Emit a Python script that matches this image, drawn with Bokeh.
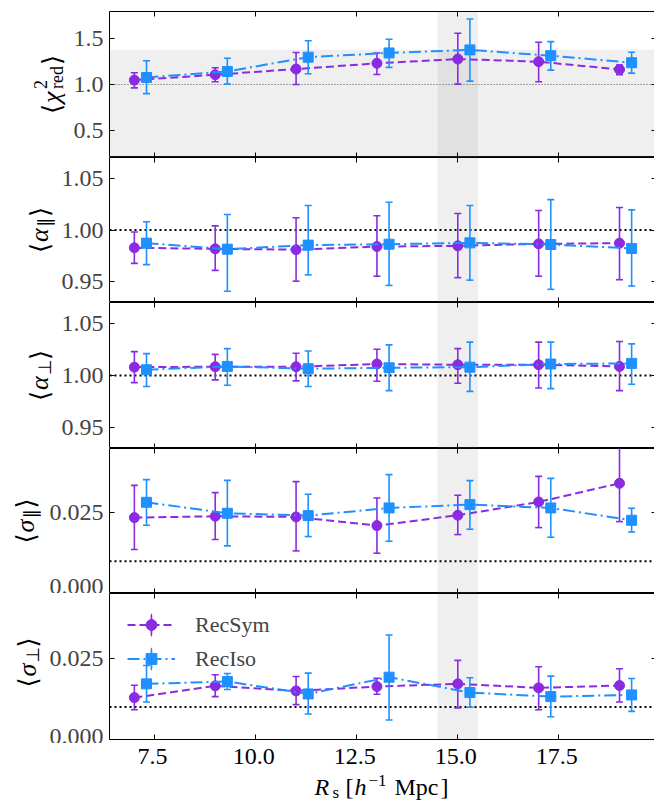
import math
import numpy as np
from bokeh.plotting import figure
from bokeh.layouts import column, row
from bokeh.models import (Range1d, FixedTicker, PrintfTickFormatter, LinearAxis, BoxAnnotation,
                          Span, Label, Legend, LegendItem, ColumnDataSource)
from bokeh.embed import file_html
from bokeh.resources import INLINE

# ---------------- data ----------------
x_sym = [7, 9, 11, 13, 15, 17, 19]
x_iso = [7.3, 9.3, 11.3, 13.3, 15.3, 17.3, 19.3]

chi_sym = [1.048, 1.107, 1.169, 1.232, 1.279, 1.250, 1.165]
chi_sym_lo = [0.963, 1.030, 1.000, 1.110, 1.004, 1.030, 1.107]
chi_sym_hi = [1.129, 1.184, 1.350, 1.346, 1.562, 1.463, 1.213]
chi_iso = [1.077, 1.143, 1.300, 1.346, 1.379, 1.316, 1.239]
chi_iso_lo = [0.900, 1.004, 1.118, 1.188, 1.037, 1.158, 1.125]
chi_iso_hi = [1.260, 1.287, 1.480, 1.496, 1.717, 1.470, 1.353]

apar_sym = [0.9828, 0.9818, 0.9810, 0.9840, 0.9847, 0.9866, 0.9873]
apar_sym_lo = [0.9678, 0.9610, 0.9506, 0.9554, 0.9540, 0.9554, 0.9520]
apar_sym_hi = [0.9980, 1.0040, 1.0118, 1.0137, 1.0160, 1.0188, 1.0217]
apar_iso = [0.9873, 0.9815, 0.9854, 0.9863, 0.9876, 0.9860, 0.9822]
apar_iso_lo = [0.9666, 0.9408, 0.9567, 0.9465, 0.9516, 0.9427, 0.9459]
apar_iso_hi = [1.0080, 1.0150, 1.0236, 1.0268, 1.0236, 1.0293, 1.0194]

aper_sym = [1.0080, 1.0084, 1.0084, 1.0110, 1.0103, 1.0103, 1.0087]
aper_sym_lo = [0.9932, 0.9958, 0.9948, 0.9945, 0.9926, 0.9880, 0.9855]
aper_sym_hi = [1.0229, 1.0203, 1.0213, 1.0252, 1.0258, 1.0320, 1.0326]
aper_iso = [1.0055, 1.0087, 1.0065, 1.0074, 1.0080, 1.0110, 1.0116]
aper_iso_lo = [0.9894, 0.9906, 0.9894, 0.9855, 0.9848, 0.9874, 0.9916]
aper_iso_hi = [1.0210, 1.0258, 1.0235, 1.0294, 1.0320, 1.0320, 1.0303]

spar_sym = [0.02355, 0.02397, 0.02376, 0.02107, 0.02428, 0.02841, 0.03420]
spar_sym_lo = [0.01364, 0.01674, 0.01322, 0.01250, 0.01829, 0.02045, 0.02231]
spar_sym_hi = [0.03357, 0.03130, 0.03471, 0.02965, 0.03048, 0.03636, 0.04610]
spar_iso = [0.02830, 0.02490, 0.02417, 0.02655, 0.02758, 0.02655, 0.02273]
spar_iso_lo = [0.02118, 0.01477, 0.01767, 0.01622, 0.01994, 0.01746, 0.01911]
spar_iso_hi = [0.03533, 0.03512, 0.03079, 0.03688, 0.03502, 0.03574, 0.02645]

sper_sym = [0.01291, 0.01653, 0.01498, 0.01632, 0.01715, 0.01591, 0.01663]
sper_sym_lo = [0.00919, 0.01322, 0.01074, 0.01395, 0.00971, 0.00919, 0.01157]
sper_sym_hi = [0.01674, 0.01994, 0.01942, 0.01890, 0.02438, 0.02242, 0.02180]
sper_iso = [0.01715, 0.01787, 0.01405, 0.01921, 0.01446, 0.01322, 0.01374]
sper_iso_lo = [0.01157, 0.01539, 0.00785, 0.00599, 0.00992, 0.00702, 0.00868]
sper_iso_hi = [0.02283, 0.02035, 0.02045, 0.03223, 0.01901, 0.01952, 0.01880]

x_ticks = [7.5, 10.0, 12.5, 15.0, 17.5]
x_tick_labels = ["7.5", "10.0", "12.5", "15.0", "17.5"]
chi_ticks = [0.5, 1.0, 1.5]
alpha_ticks = [0.95, 1.00, 1.05]
sigma_ticks = [0.000, 0.025]

chi_threshold = 1.38          # upper edge of the shaded chi2 band
fiducial_band = [14.5, 15.5]  # shaded R_s band
chi_ref = 1.0
alpha_ref = 1.0
sigma_ref = 0.01

series_names = ["RecSym", "RecIso"]

# ---------------- style ----------------
C_SYM = "#8a2be2"
C_ISO = "#1e90ff"
SERIF = "Liberation Serif"
BR = "DejaVu Sans"
TICK_FS = "24px"
XR = Range1d(6.385, 19.915)
DASH_SYM = "8 4"
DASH_ISO = "12 4 2 4"
DOT = "2 3"
FRAME_W = 547
LEFT_EDGE = 107


def add_axes(p, yticks, yfmt):
    common = dict(axis_line_color=None, major_tick_in=5, major_tick_out=0,
                  minor_tick_line_color=None, major_tick_line_color="black",
                  major_tick_line_width=1)
    hidden = dict(major_label_text_font_size="0px", major_label_standoff=0)
    p.add_layout(LinearAxis(ticker=FixedTicker(ticks=x_ticks), **common, **hidden), "below")
    p.add_layout(LinearAxis(ticker=FixedTicker(ticks=x_ticks), **common, **hidden), "above")
    ly = LinearAxis(ticker=FixedTicker(ticks=yticks), formatter=PrintfTickFormatter(format=yfmt),
                    major_label_text_font=SERIF, major_label_text_font_size=TICK_FS,
                    major_label_standoff=6, **common)
    p.add_layout(ly, "left")
    p.add_layout(LinearAxis(ticker=FixedTicker(ticks=yticks), **common, **hidden), "right")


def make_panel(yr, yticks, yfmt, frame_h, top, bottom, left):
    p = figure(frame_width=FRAME_W, frame_height=frame_h, x_range=XR, y_range=Range1d(*yr),
               x_axis_location=None, y_axis_location=None,
               output_backend="svg", toolbar_location=None,
               min_border=0, min_border_left=left, min_border_right=0,
               min_border_top=top, min_border_bottom=bottom)
    p.grid.grid_line_color = None
    p.outline_line_color = "black"
    p.outline_line_width = 1
    p.background_fill_color = "white"
    p.border_fill_color = "white"
    add_axes(p, yticks, yfmt)
    p.add_layout(BoxAnnotation(left=fiducial_band[0], right=fiducial_band[1], fill_color="gray",
                               fill_alpha=0.13, line_color=None, level="underlay"))
    return p


def draw_series(p, xs, ys, lo, hi, color, marker, dash):
    src = ColumnDataSource(dict(x=xs, y=ys, lo=lo, hi=hi))
    ln = p.line("x", "y", source=src, line_color=color, line_width=2, line_dash=dash)
    p.segment(x0="x", y0="lo", x1="x", y1="hi", source=src, line_color=color, line_width=1.6)
    p.scatter("x", "lo", source=src, marker="dash", size=7, line_color=color, line_width=1.6)
    p.scatter("x", "hi", source=src, marker="dash", size=7, line_color=color, line_width=1.6)
    sc = p.scatter("x", "y", source=src, marker=marker, size=10, fill_color=color, line_color=color)
    return ln, sc


def blank_fig(w, h):
    f = figure(width=w, height=h, x_axis_location=None, y_axis_location=None,
               output_backend="svg", toolbar_location=None, min_border=0)
    f.grid.grid_line_color = None
    f.outline_line_color = None
    return f


def label_fig(w, h, pieces, center, base_x):
    f = blank_fig(w, h)
    total = pieces[-1][1] + 10
    y0 = center - total / 2
    for txt, s, shift, size, font, style in pieces:
        f.add_layout(Label(x=base_x - shift, y=y0 + s, x_units="screen", y_units="screen",
                           text=txt, angle=math.pi / 2, text_font=font, text_font_size=f"{size}px",
                           text_font_style=style, text_align="left", text_baseline="middle",
                           text_color="black"))
    return f


heights = [146, 145, 146, 145, 146]
lab_w = [70, 58, 58, 46, 46]
P5_BOTTOM = 4

# panel 1: chi2
p1 = make_panel((0.2, 1.8), chi_ticks, "%.1f", heights[0], 11, 0, LEFT_EDGE - lab_w[0])
p1.add_layout(BoxAnnotation(top=chi_threshold, fill_color="gray", fill_alpha=0.13,
                            line_color=None, level="underlay"))
p1.add_layout(Span(location=chi_ref, dimension="width", line_color="#555555", line_width=1,
                   line_dash="1 2", level="underlay"))
draw_series(p1, x_sym, chi_sym, chi_sym_lo, chi_sym_hi, C_SYM, "circle", DASH_SYM)
draw_series(p1, x_iso, chi_iso, chi_iso_lo, chi_iso_hi, C_ISO, "square", DASH_ISO)
l1 = label_fig(lab_w[0], heights[0] + 11,
               [("\u27e8", 0, 0, 26, BR, "normal"), ("\u03c7", 11, 0, 26, SERIF, "italic"),
                ("2", 25, 11, 18, SERIF, "normal"), ("red", 25, -5, 18, SERIF, "normal"),
                ("\u27e9", 49, 0, 26, BR, "normal")], heights[0] / 2, 51)

# panel 2: alpha parallel
p2 = make_panel((0.93, 1.07), alpha_ticks, "%.2f", heights[1], 0, 0, LEFT_EDGE - lab_w[1])
p2.add_layout(Span(location=alpha_ref, dimension="width", line_color="black", line_width=2,
                   line_dash=DOT, level="underlay"))
draw_series(p2, x_sym, apar_sym, apar_sym_lo, apar_sym_hi, C_SYM, "circle", DASH_SYM)
draw_series(p2, x_iso, apar_iso, apar_iso_lo, apar_iso_hi, C_ISO, "square", DASH_ISO)
l2 = label_fig(lab_w[1], heights[1],
               [("\u27e8", 0, 0, 26, BR, "normal"), ("\u03b1", 11, 0, 26, SERIF, "italic"),
                ("\u2225", 26, -5, 18, BR, "normal"), ("\u27e9", 36, 0, 26, BR, "normal")],
               heights[1] / 2, 39)

# panel 3: alpha perpendicular
p3 = make_panel((0.93, 1.07), alpha_ticks, "%.2f", heights[2], 0, 0, LEFT_EDGE - lab_w[2])
p3.add_layout(Span(location=alpha_ref, dimension="width", line_color="black", line_width=2,
                   line_dash=DOT, level="underlay"))
draw_series(p3, x_sym, aper_sym, aper_sym_lo, aper_sym_hi, C_SYM, "circle", DASH_SYM)
draw_series(p3, x_iso, aper_iso, aper_iso_lo, aper_iso_hi, C_ISO, "square", DASH_ISO)
l3 = label_fig(lab_w[2], heights[2],
               [("\u27e8", 0, 0, 26, BR, "normal"), ("\u03b1", 11, 0, 26, SERIF, "italic"),
                ("\u22a5", 26, -5, 18, BR, "normal"), ("\u27e9", 41, 0, 26, BR, "normal")],
               heights[2] / 2, 39)

# panel 4: sigma parallel
p4 = make_panel((0.0, 0.045), sigma_ticks, "%.3f", heights[3], 0, 0, LEFT_EDGE - lab_w[3])
p4.add_layout(Span(location=sigma_ref, dimension="width", line_color="black", line_width=2,
                   line_dash=DOT, level="underlay"))
draw_series(p4, x_sym, spar_sym, spar_sym_lo, spar_sym_hi, C_SYM, "circle", DASH_SYM)
draw_series(p4, x_iso, spar_iso, spar_iso_lo, spar_iso_hi, C_ISO, "square", DASH_ISO)
l4 = label_fig(lab_w[3], heights[3],
               [("\u27e8", 0, 0, 26, BR, "normal"), ("\u03c3", 11, 0, 26, SERIF, "italic"),
                ("\u2225", 25, -5, 18, BR, "normal"), ("\u27e9", 35, 0, 26, BR, "normal")],
               heights[3] / 2, 25)

# panel 5: sigma perpendicular
p5 = make_panel((0.0, 0.045), sigma_ticks, "%.3f", heights[4], 0, P5_BOTTOM, LEFT_EDGE - lab_w[4])
p5.add_layout(Span(location=sigma_ref, dimension="width", line_color="black", line_width=2,
                   line_dash=DOT, level="underlay"))
ls, ss = draw_series(p5, x_sym, sper_sym, sper_sym_lo, sper_sym_hi, C_SYM, "circle", DASH_SYM)
li, si = draw_series(p5, x_iso, sper_iso, sper_iso_lo, sper_iso_hi, C_ISO, "square", DASH_ISO)
l5 = label_fig(lab_w[4], heights[4] + P5_BOTTOM,
               [("\u27e8", 0, 0, 26, BR, "normal"), ("\u03c3", 11, 0, 26, SERIF, "italic"),
                ("\u22a5", 25, -5, 18, BR, "normal"), ("\u27e9", 40, 0, 26, BR, "normal")],
               P5_BOTTOM + heights[4] / 2, 27)

# legend-key error bars: thin tall screen-unit ellipses, NaN centre so nothing appears on the axes
key_src = ColumnDataSource(dict(x=np.array([np.nan]), y=np.array([np.nan])))
eb_sym = p5.ellipse(x="x", y="y", width=0.02, height=1, width_units="screen", height_units="screen",
                    source=key_src, fill_color=None, line_color=C_SYM, line_width=1.6)
eb_iso = p5.ellipse(x="x", y="y", width=0.02, height=1, width_units="screen", height_units="screen",
                    source=key_src, fill_color=None, line_color=C_ISO, line_width=1.6)

legend = Legend(items=[LegendItem(label=series_names[0], renderers=[ls, eb_sym, ss]),
                       LegendItem(label=series_names[1], renderers=[li, eb_iso, si])],
                location="top_left", margin=18, padding=0, spacing=7,
                glyph_width=48, glyph_height=27, label_standoff=20,
                label_text_font=SERIF, label_text_font_size="22px",
                border_line_color=None, background_fill_alpha=0)
p5.add_layout(legend)

# bottom strip: x tick labels (placed through the shared x scale) and the x-axis title
t_h = 800 - 11 - sum(heights) - P5_BOTTOM
tfig = figure(frame_width=FRAME_W, frame_height=t_h, x_range=XR, y_range=Range1d(0, 1),
              x_axis_location=None, y_axis_location=None, output_backend="svg",
              toolbar_location=None, min_border=0, min_border_left=LEFT_EDGE, min_border_right=0)
tfig.grid.grid_line_color = None
tfig.outline_line_color = None
for t, lab in zip(x_ticks, x_tick_labels):
    tfig.add_layout(Label(x=t, y=44, x_units="data", y_units="screen", text=lab,
                          text_font=SERIF, text_font_size=TICK_FS, text_align="center",
                          text_baseline="middle", text_color="black"))
for txt, xx, yy, size, style in [("R", 207, 14, 24, "italic"), ("s", 225, 8, 17, "normal"),
                                 ("[", 238, 14, 24, "normal"), ("h", 247, 14, 24, "italic"),
                                 ("\u22121", 261, 20, 17, "normal"), ("Mpc", 287, 14, 24, "normal"),
                                 ("]", 333, 14, 24, "normal")]:
    tfig.add_layout(Label(x=xx, y=yy, x_units="screen", y_units="screen", text=txt,
                          text_font=SERIF, text_font_size=f"{size}px", text_font_style=style,
                          text_align="left", text_baseline="middle", text_color="black"))

layout = column(row(l1, p1, spacing=0), row(l2, p2, spacing=0), row(l3, p3, spacing=0),
                row(l4, p4, spacing=0), row(l5, p5, spacing=0), tfig, spacing=0)
open("out.html", "w").write(file_html(layout, INLINE))
